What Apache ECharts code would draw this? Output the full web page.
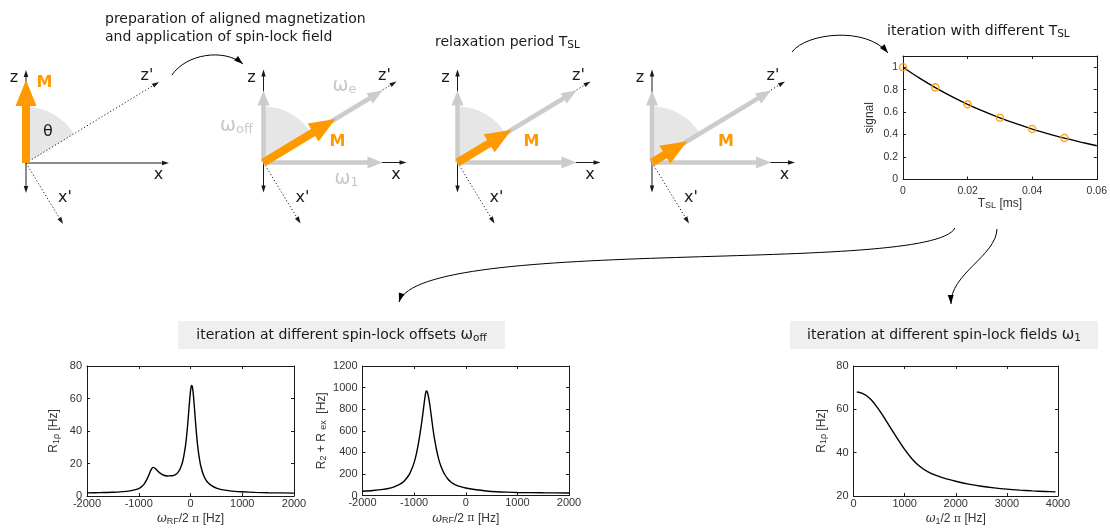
<!DOCTYPE html>
<html>
<head>
<meta charset="utf-8">
<script src="https://cdn.jsdelivr.net/npm/echarts@6/dist/echarts.min.js"></script>
<style>
  html, body { margin: 0; padding: 0; background: #ffffff; }
  #chart { width: 1110px; height: 529px; }
</style>
</head>
<body>
<div id="chart"></div>
<script>
// ---------------- data ----------------
// signal decay during the spin-lock period
const tslSamples = [0, 0.01, 0.02, 0.03, 0.04, 0.05];
const signalSamples = [1.0, 0.82, 0.67, 0.55, 0.45, 0.37];
const tslFit = [0, 0.005, 0.01, 0.015, 0.02, 0.025, 0.03, 0.035, 0.04, 0.045, 0.05, 0.055, 0.06];
const signalFit = [1.0, 0.905, 0.819, 0.741, 0.670, 0.607, 0.549, 0.497, 0.449, 0.407, 0.368, 0.333, 0.301];

// R1rho dispersion versus spin-lock offset
const offsetHz = [-2000, -1750, -1500, -1300, -1200, -1100, -1000, -950, -900, -850, -800, -770, -740, -720,
  -700, -670, -640, -600, -550, -500, -450, -400, -350, -300, -250, -200, -150, -100, -75, -50, -25, 0, 15,
  25, 35, 50, 75, 100, 125, 150, 175, 200, 250, 300, 350, 400, 500, 600, 800, 1000, 1250, 1500, 2000];
const r1rhoOffset = [1.9, 2.1, 2.3, 2.7, 3.0, 3.6, 4.6, 5.6, 7.2, 9.8, 13.2, 15.6, 17.2, 17.6,
  17.4, 16.6, 15.6, 14.4, 13.3, 12.6, 12.3, 12.4, 12.5, 13.0, 14.25, 16.8, 21.4, 30.2, 37, 45.7, 55.8, 64.6, 67.6,
  68.1, 67.3, 64, 54.7, 44.2, 35, 27.8, 22.4, 18.3, 12.9, 9.8, 7.8, 6.5, 4.8, 3.9, 3.0, 2.6, 2.2, 2.0, 1.8];

// R2 + Rex versus offset
const offsetHzEx = [-2000, -1800, -1600, -1500, -1400, -1300, -1200, -1100, -1050, -1000, -950, -900, -850,
  -820, -790, -765, -745, -720, -690, -660, -630, -600, -560, -520, -480, -440, -400, -350, -300, -250, -200,
  -100, 0, 200, 400, 600, 800, 1000, 1500, 2000];
const r2RexOffset = [40, 47, 57, 65, 78, 98, 130, 190, 240, 305, 400, 530, 690,
  800, 910, 968, 960, 910, 820, 710, 600, 510, 410, 330, 270, 225, 190, 155, 130, 112, 99,
  82, 70, 53, 42, 35, 31, 28, 25, 23];

// R1rho dispersion versus spin-lock field strength
const omega1Hz = [65, 150, 250, 350, 450, 550, 650, 750, 850, 1000, 1150, 1300, 1450, 1600, 1800, 2000,
  2250, 2500, 2750, 3000, 3250, 3500, 3750, 3950];
const r1rhoField = [68.0, 67.6, 66.4, 64.3, 61.4, 58.0, 54.3, 50.5, 46.8, 41.5, 37.0, 33.6, 31.2, 29.6, 28.0, 26.8,
  25.5, 24.5, 23.75, 23.15, 22.7, 22.35, 22.1, 21.9];

// vector diagrams (rotating frame): field components and magnetization per stage
const omegaOff = 72;                 // longitudinal offset component
const omega1 = 119;                  // transverse spin-lock field
const stageMagnitude = [83, 84, 63, 41];
const stageTilted = [false, true, true, true];
const stageFields = [false, true, true, true];
const stageFieldLabels = [false, true, false, false];

// ---------------- styling ----------------
const AX = '#1a1a1a';
const ORANGE = '#ff9900';
const FIELD = '#cccccc';
const SECTOR = '#e6e6e6';
const TXT = "'DejaVu Sans', sans-serif";
const NUM = "'Liberation Sans', Arial, sans-serif";
const TICK = '#333333';

const chart = echarts.init(document.getElementById('chart'), null, { renderer: 'canvas' });

// ---------------- helpers for the vector diagrams ----------------
function unit(p0, p1) {
  const dx = p1[0] - p0[0], dy = p1[1] - p0[1];
  const L = Math.hypot(dx, dy) || 1;
  return [dx / L, dy / L, L];
}
function fatArrow(p0, p1, shaftW, headW, headL, color) {
  const [ux, uy] = unit(p0, p1);
  const nx = -uy, ny = ux;
  const bx = p1[0] - ux * headL, by = p1[1] - uy * headL;
  const pts = [
    [p0[0] + nx * shaftW / 2, p0[1] + ny * shaftW / 2],
    [bx + nx * shaftW / 2, by + ny * shaftW / 2],
    [bx + nx * headW / 2, by + ny * headW / 2],
    [p1[0], p1[1]],
    [bx - nx * headW / 2, by - ny * headW / 2],
    [bx - nx * shaftW / 2, by - ny * shaftW / 2],
    [p0[0] - nx * shaftW / 2, p0[1] - ny * shaftW / 2]
  ];
  return { type: 'polygon', shape: { points: pts }, style: { fill: color } };
}
function head(tip, from, len, wid, color) {
  const [ux, uy] = unit(from, tip);
  const nx = -uy, ny = ux;
  const bx = tip[0] - ux * len, by = tip[1] - uy * len;
  return { type: 'polygon', shape: { points: [[tip[0], tip[1]], [bx + nx * wid / 2, by + ny * wid / 2], [bx - nx * wid / 2, by - ny * wid / 2]] }, style: { fill: color } };
}
function thinArrow(p0, p1, dotted, both) {
  const [ux, uy] = unit(p0, p1);
  const hl = 7;
  const a = both ? [p0[0] + ux * hl * 0.6, p0[1] + uy * hl * 0.6] : p0;
  const b = [p1[0] - ux * hl * 0.6, p1[1] - uy * hl * 0.6];
  const out = [{
    type: 'line',
    shape: { x1: a[0], y1: a[1], x2: b[0], y2: b[1] },
    style: { stroke: AX, lineWidth: 1, lineDash: dotted ? [1.2, 2.2] : null }
  }];
  out.push(head(p1, p0, hl, 4.5, AX));
  if (both) out.push(head(p0, p1, hl, 4.5, AX));
  return out;
}
function label(pos, text, opts) {
  return {
    type: 'text', x: pos[0], y: pos[1],
    style: Object.assign({ text: text, align: 'center', verticalAlign: 'middle', font: '16px ' + TXT, fill: AX }, opts || {})
  };
}

function renderDiagram(stage) {
  return function (params, api) {
    const c = (v) => api.coord(v);
    const o = c([0, 0]);
    const kids = [];
    const zPrime = [133, 81];
    const xPrime = [37, -61];
    const tilt = Math.atan2(omegaOff, omega1);
    const rPx = c([56, 0])[0] - o[0];
    // cone swept between z and the effective field direction
    kids.push({ type: 'sector', shape: { cx: o[0], cy: o[1], r0: 0, r: rPx, startAngle: -Math.PI / 2, endAngle: -Math.atan2(zPrime[1], zPrime[0]), clockwise: true }, style: { fill: SECTOR } });
    // laboratory axes and tilted frame
    kids.push(...thinArrow(c([0, -30]), c([0, 93]), false, true));
    kids.push(...thinArrow(o, c([143, 0]), false, false));
    kids.push(...thinArrow(o, c(zPrime), true, false));
    kids.push(...thinArrow(o, c(xPrime), true, false));
    // spin-lock field components
    if (stageFields[stage]) {
      kids.push(fatArrow(o, c([0, omegaOff]), 4.5, 12, 15, FIELD));
      kids.push(fatArrow(o, c([omega1, 0]), 4.5, 12, 15, FIELD));
      kids.push(fatArrow(o, c([omega1, omegaOff]), 4.5, 12, 15, FIELD));
    }
    // magnetization
    const m = stageMagnitude[stage];
    const mEnd = stageTilted[stage] ? [m * Math.cos(tilt), m * Math.sin(tilt)] : [0, m];
    kids.push(fatArrow(o, c(mEnd), 8, 21, 26, ORANGE));
    // labels
    kids.push(label(c([-12, 85]), 'z'));
    kids.push(label(c([121, 87]), "z'"));
    kids.push(label(c([132.5, -12]), 'x'));
    kids.push(label(c([39, -35]), "x'"));
    const mPos = stageTilted[stage] ? [74, 20.5] : [18.5, 80];
    kids.push(label(c(mPos), 'M', { font: 'bold 16px ' + TXT, fill: ORANGE }));
    if (!stageTilted[stage]) kids.push(label(c([22, 31]), 'θ'));
    if (stageFieldLabels[stage]) {
      const rich = {
        w: { font: '19px ' + TXT, fill: '#c8c8c8', lineHeight: 20 },
        s: { font: '13px ' + TXT, fill: '#c8c8c8', lineHeight: 12, verticalAlign: 'bottom' }
      };
      kids.push(label(c([-27, 36]), '{w|ω}{s|off}', { rich: rich }));
      kids.push(label(c([81, 76]), '{w|ω}{s|e}', { rich: rich }));
      kids.push(label(c([83, -17]), '{w|ω}{s|1}', { rich: rich }));
    }
    return { type: 'group', children: kids };
  };
}

// ---------------- plot axes (boxed, ticks inside on all four sides) ----------------
const grids = [];
const xAxes = [];
const yAxes = [];
const series = [];

const nameRich = {
  n: { fontFamily: NUM, fontSize: 12, color: TICK, lineHeight: 14 },
  s: { fontFamily: NUM, fontSize: 9, color: TICK, lineHeight: 8, verticalAlign: 'bottom' },
  w: { fontFamily: "'DejaVu Serif', serif", fontStyle: 'italic', fontSize: 12, color: TICK, lineHeight: 14 },
  p: { fontFamily: "'DejaVu Serif', serif", fontSize: 11, color: TICK, lineHeight: 14 }
};

function addPlot(box, xa, ya) {
  const g = grids.length;
  grids.push({ left: box[0], top: box[1], width: box[2], height: box[3], containLabel: false, show: false });
  const tick = { show: true, inside: true, length: 3, lineStyle: { color: AX, width: 1 } };
  const line = { show: true, onZero: false, lineStyle: { color: AX, width: 1 } };
  const fmt = xa.fmt || ((v) => String(v));
  const fmtY = ya.fmt || ((v) => String(v));
  xAxes.push({
    type: 'value', gridIndex: g, min: xa.min, max: xa.max, interval: xa.interval, position: 'bottom',
    axisLine: line, axisTick: tick, splitLine: { show: false },
    axisLabel: { fontFamily: NUM, fontSize: xa.fs || 11, color: TICK, margin: xa.margin, formatter: fmt, showMaxLabel: true, showMinLabel: true },
    name: xa.name, nameLocation: 'middle', nameGap: xa.nameGap, nameTextStyle: { rich: nameRich }
  });
  xAxes.push({
    type: 'value', gridIndex: g, min: xa.min, max: xa.max, interval: xa.interval, position: 'top',
    axisLine: line, axisTick: tick, axisLabel: { show: false }, splitLine: { show: false }
  });
  yAxes.push({
    type: 'value', gridIndex: g, min: ya.min, max: ya.max, interval: ya.interval, position: 'left',
    axisLine: line, axisTick: tick, splitLine: { show: false },
    axisLabel: { fontFamily: NUM, fontSize: ya.fs || 11, color: TICK, margin: 5, formatter: fmtY },
    name: ya.name, nameLocation: 'middle', nameGap: ya.nameGap, nameTextStyle: { rich: nameRich }
  });
  yAxes.push({
    type: 'value', gridIndex: g, min: ya.min, max: ya.max, interval: ya.interval, position: 'right',
    axisLine: line, axisTick: tick, axisLabel: { show: false }, splitLine: { show: false }
  });
  return xAxes.length - 2;
}

const zip = (a, b) => a.map((v, i) => [v, b[i]]);
const curve = (idx, data) => ({
  type: 'line', xAxisIndex: idx, yAxisIndex: idx, data: data, showSymbol: false, smooth: 0.25,
  lineStyle: { color: '#000000', width: 1.4 }, silent: true, z: 3
});

// signal decay
const a1 = addPlot([903, 56, 197, 123.5],
  { min: 0, max: 0.06, interval: 0.02, margin: 6, fs: 10.5, name: '{n|T}{s|SL}{n| [ms]}', nameGap: 16 },
  { min: 0, max: 1.1, interval: 0.2, fs: 10.5, name: '{n|signal}', nameGap: 26, fmt: (v) => (v > 1.05 ? '' : String(Math.round(v * 10) / 10)) });
series.push(curve(a1, zip(tslFit, signalFit)));
series.push({
  type: 'scatter', xAxisIndex: a1, yAxisIndex: a1, data: zip(tslSamples, signalSamples), symbol: 'circle', symbolSize: 7,
  itemStyle: { color: 'rgba(0,0,0,0)', borderColor: ORANGE, borderWidth: 1.7 }, silent: true, z: 4
});

// R1rho vs offset
const a2 = addPlot([87, 366, 207, 130],
  { min: -2000, max: 2000, interval: 1000, margin: 2, name: '{w|ω}{s|RF}{n|/2 }{p|π}{n| [Hz]}', nameGap: 16 },
  { min: 0, max: 80, interval: 20, name: '{n|R}{s|1ρ}{n| [Hz]}', nameGap: 26 });
series.push(curve(a2, zip(offsetHz, r1rhoOffset)));

// R2 + Rex vs offset
const a3 = addPlot([362.5, 366, 206.5, 129.5],
  { min: -2000, max: 2000, interval: 1000, margin: 2, name: '{w|ω}{s|RF}{n|/2 }{p|π}{n| [Hz]}', nameGap: 16 },
  { min: 0, max: 1200, interval: 200, name: '{n|R}{s|2}{n| + R }{s|ex}{n|  [Hz]}', nameGap: 34 });
series.push(curve(a3, zip(offsetHzEx, r2RexOffset)));

// R1rho vs spin-lock field
const a4 = addPlot([853.5, 366, 204.5, 130],
  { min: 0, max: 4000, interval: 1000, margin: 2, name: '{w|ω}{s|1}{n|/2 }{p|π}{n| [Hz]}', nameGap: 16 },
  { min: 20, max: 80, interval: 20, name: '{n|R}{s|1ρ}{n| [Hz]}', nameGap: 25 });
series.push(curve(a4, zip(omega1Hz, r1rhoField)));

// ---------------- vector diagram panels ----------------
const diagramOrigins = [[26, 163], [263.5, 162.5], [457.5, 162.5], [652, 162.5]];
diagramOrigins.forEach((o, k) => {
  const g = grids.length;
  grids.push({ left: o[0] - 20, top: o[1] - 100, width: 180, height: 170, show: false });
  xAxes.push({ type: 'value', gridIndex: g, min: -20, max: 160, show: false });
  yAxes.push({ type: 'value', gridIndex: g, min: -70, max: 100, show: false });
  series.push({
    type: 'custom', xAxisIndex: xAxes.length - 1, yAxisIndex: yAxes.length - 1, data: [[0, 0]],
    renderItem: renderDiagram(k), clip: false, silent: true, z: 2
  });
});

// ---------------- connectors and captions ----------------
const connectors = [
  [[172, 75], [186, 54], [224, 48], [243, 64]],
  [[792, 52], [806, 33], [866, 26], [888, 53]],
  [[955, 228], [930, 275], [420, 235], [399, 302]],
  [[997, 229], [996, 256], [950, 274], [951, 304]]
];
const graphic = [];
connectors.forEach((c) => {
  graphic.push({
    type: 'bezierCurve', silent: true,
    shape: { x1: c[0][0], y1: c[0][1], cpx1: c[1][0], cpy1: c[1][1], cpx2: c[2][0], cpy2: c[2][1], x2: c[3][0], y2: c[3][1] },
    style: { stroke: '#000000', lineWidth: 1, fill: null }
  });
  const h = head(c[3], c[2], 9, 6, '#000000');
  graphic.push(Object.assign({ silent: true }, h));
});

const capRich = {
  n: { font: '14px ' + TXT, fill: AX, lineHeight: 18 },
  s: { font: '10.5px ' + TXT, fill: AX, lineHeight: 10, verticalAlign: 'bottom' },
  w: { font: '15px ' + TXT, fill: AX, lineHeight: 18 }
};
function caption(x, y, text, align) {
  return { type: 'text', x: x, y: y, silent: true, style: { text: text, rich: capRich, align: align || 'left', verticalAlign: 'middle' } };
}
graphic.push(caption(105, 19, '{n|preparation of aligned magnetization}'));
graphic.push(caption(105, 37, '{n|and application of spin-lock field}'));
graphic.push(caption(435, 42, '{n|relaxation period T}{s|SL}'));
graphic.push(caption(887, 31, '{n|iteration with different T}{s|SL}'));

graphic.push({ type: 'rect', silent: true, shape: { x: 178, y: 321, width: 327, height: 28 }, style: { fill: '#efefef' } });
graphic.push({ type: 'rect', silent: true, shape: { x: 790, y: 321, width: 308, height: 28 }, style: { fill: '#efefef' } });
graphic.push(caption(341.5, 335, '{n|iteration at different spin-lock offsets }{w|ω}{s|off}', 'center'));
graphic.push(caption(944, 335, '{n|iteration at different spin-lock fields }{w|ω}{s|1}', 'center'));

chart.setOption({
  animation: false,
  backgroundColor: '#ffffff',
  textStyle: { fontFamily: NUM },
  grid: grids,
  xAxis: xAxes,
  yAxis: yAxes,
  series: series,
  graphic: graphic
});
</script>
</body>
</html>
